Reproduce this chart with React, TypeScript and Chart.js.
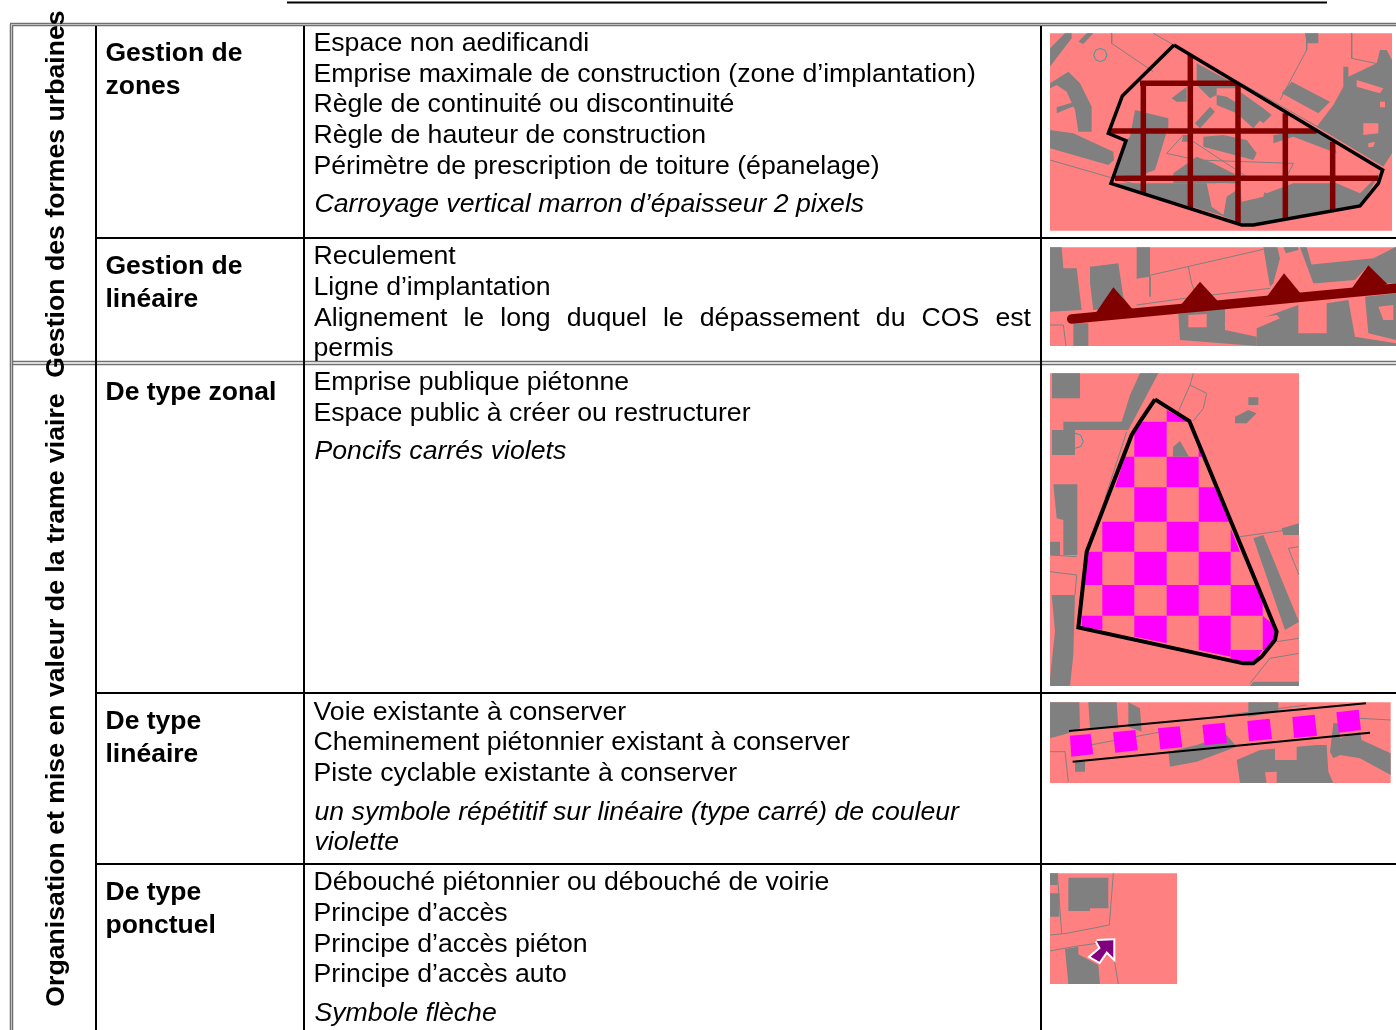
import React, { useEffect, useRef } from "react";
import { Chart, registerables } from "chart.js";

Chart.register(...registerables);

type Pt = [number, number];

const PAGE_W = 1396;
const PAGE_H = 1030;
const FONT = '"Liberation Sans", Arial, sans-serif';

const PINK = "#ff8080";
const GREY = "#808080";
const MAROON = "#800000";
const MAGENTA = "#ff00ff";
const TEAL = "#2f9f9f";
const RULE_GREY = "#707070";

// ---------- Text of the table ----------
const sideLabels = ["Gestion des formes urbaines", "Organisation et mise en valeur de la trame viaire"];
const sideLabelY = [194, 700];

const headLines = ["Gestion de", "zones", "Gestion de", "linéaire", "De type zonal", "De type", "linéaire", "De type", "ponctuel"];
const headBaselines = [61, 94, 274, 307, 400, 729, 762, 900, 933];

const bodyLines = [
  "Espace non aedificandi",
  "Emprise maximale de construction (zone d’implantation)",
  "Règle de continuité ou discontinuité",
  "Règle de hauteur de construction",
  "Périmètre de prescription de toiture (épanelage)",
  "Reculement",
  "Ligne d’implantation",
  "Alignement le long duquel le dépassement du COS est",
  "permis",
  "Emprise publique piétonne",
  "Espace public à créer ou restructurer",
  "Voie existante à conserver",
  "Cheminement piétonnier existant à conserver",
  "Piste cyclable existante à conserver",
  "Débouché piétonnier ou débouché de voirie",
  "Principe d’accès",
  "Principe d’accès piéton",
  "Principe d’accès auto",
];
const bodyBaselines = [51, 82, 112, 143, 174, 264, 295, 326, 356, 390, 421, 720, 750, 781, 890, 921, 952, 982];
const justifiedLine = "Alignement le long duquel le dépassement du COS est";

const italicLines = [
  "Carroyage vertical marron d’épaisseur 2 pixels",
  "Poncifs carrés violets",
  "un symbole répétitif sur linéaire (type carré) de couleur",
  "violette",
  "Symbole flèche",
];
const italicBaselines = [212, 459, 820, 850, 1021];

// ---------- Table rules, in page units ----------
const blackRules: Pt[][] = [
  [[96, 26], [96, 1030]],
  [[304, 26], [304, 1030]],
  [[1041, 26], [1041, 1030]],
  [[96, 238], [1396, 238]],
  [[96, 693], [1396, 693]],
  [[96, 864], [1396, 864]],
  [[287, 2.5], [1327, 2.5]],
];
const greyRules: Pt[][] = [
  [[10.5, 24], [10.5, 1030]],
  [[12.5, 26], [12.5, 1030]],
  [[10, 23.5], [1396, 23.5]],
  [[12, 25.5], [1396, 25.5]],
  [[12, 361.5], [1396, 361.5]],
  [[12, 364.5], [1396, 364.5]],
];

// ---------- Thumbnail 1: zones ----------
const zoneOrigin: Pt = [1040, 20];
const zoneGround: Pt[] = [[30, 40], [1056, 40], [1056, 632], [30, 632]];
const zoneBlocks: Pt[][] = [
  [[30, 85], [75, 40], [95, 40], [95, 55], [45, 120], [30, 140]],
  [[115, 65], [140, 40], [160, 40], [130, 72]],
  [[30, 190], [85, 155], [120, 190], [155, 260], [155, 335], [115, 335], [105, 270], [80, 215], [50, 195], [30, 205]],
  [[50, 262], [105, 245], [110, 255], [50, 280]],
  [[30, 330], [100, 340], [220, 395], [222, 420], [205, 435], [30, 385]],
  [[795, 40], [835, 40], [835, 70], [800, 70]],
  [[910, 140], [925, 140], [925, 170], [1010, 130], [1020, 90], [1040, 90], [1056, 120], [1056, 400], [1030, 440], [830, 320], [880, 255], [910, 200]],
  [[755, 185], [870, 245], [835, 280], [725, 220]],
  [[470, 130], [590, 195], [590, 205], [530, 205], [530, 225], [510, 235], [470, 195]],
  [[395, 235], [440, 200], [440, 245], [410, 245]],
  [[530, 225], [560, 230], [665, 295], [640, 325], [590, 280], [530, 255]],
  [[600, 215], [670, 265], [695, 285], [670, 310], [600, 255]],
  [[285, 270], [385, 295], [385, 320], [345, 450], [290, 470], [225, 465], [255, 365], [270, 350]],
  [[490, 350], [550, 345], [620, 360], [650, 400], [640, 420], [490, 380]],
  [[465, 310], [510, 260], [525, 275], [480, 325]],
  [[430, 345], [445, 345], [445, 365], [425, 365]],
  [[700, 345], [830, 330], [880, 370], [890, 400], [760, 350], [700, 370]],
  [[400, 460], [470, 410], [520, 430], [600, 470], [600, 490], [400, 490]],
  [[230, 490], [500, 490], [515, 560], [590, 605], [540, 585], [300, 515]],
  [[560, 530], [620, 490], [680, 520], [760, 490], [890, 490], [960, 520], [1020, 460], [960, 558], [640, 615], [590, 605], [550, 585]],
];
const zoneHoles: Pt[][] = [
  [[950, 180], [1030, 205], [1020, 220], [950, 200]],
  [[970, 310], [1015, 310], [1015, 340], [970, 345]],
  [[985, 370], [1005, 365], [1000, 380], [985, 382]],
  [[1020, 245], [1035, 245], [1035, 262], [1020, 262]],
  [[530, 490], [565, 490], [550, 585], [515, 560]],
  [[600, 490], [680, 490], [670, 530], [605, 545]],
];
const zoneThinLines: Pt[][] = [
  [[215, 40], [215, 70], [340, 155]],
  [[340, 40], [850, 330]],
  [[800, 50], [800, 90], [720, 240]],
  [[935, 40], [935, 115], [1056, 140]],
  [[30, 420], [220, 475], [350, 510]],
  [[380, 400], [430, 345], [620, 470]],
  [[380, 400], [470, 420], [760, 430], [740, 470]],
];
const zoneTealRing: Pt[] = [[181, 85], [195, 91], [201, 105], [195, 119], [181, 125], [167, 119], [161, 105], [167, 91], [181, 85]];
const zoneGridV: Pt[][] = [
  [[310, 190], [310, 520]],
  [[451, 105], [451, 565]],
  [[594, 190], [594, 610]],
  [[736, 280], [736, 595]],
  [[878, 365], [878, 570]],
];
const zoneGridH: Pt[][] = [
  [[300, 190], [590, 190]],
  [[210, 333], [830, 333]],
  [[225, 475], [1015, 475]],
];
const zoneOutline: Pt[] = [[402, 75], [1028, 450], [1015, 490], [960, 558], [640, 615], [605, 615], [213, 490], [258, 362], [205, 340], [247, 228], [402, 75]];

// ---------- Thumbnail 2: linear management ----------
const linearOrigin: Pt = [1040, 240];
const linearGround: Pt[] = [[30, 22], [1068, 22], [1068, 318], [30, 318]];
const linearBlocks: Pt[][] = [
  [[30, 22], [65, 22], [70, 85], [110, 85], [125, 210], [30, 215]],
  [[150, 80], [235, 70], [250, 170], [270, 200], [160, 210], [150, 130]],
  [[290, 22], [330, 22], [330, 110], [290, 115]],
  [[670, 22], [712, 22], [720, 55], [700, 130], [690, 140]],
  [[730, 22], [775, 22], [775, 30], [738, 40]],
  [[780, 22], [800, 22], [830, 130], [820, 130]],
  [[800, 75], [1000, 55], [1068, 20], [1068, 130], [1040, 130], [985, 76], [945, 120], [830, 130]],
  [[415, 222], [555, 200], [555, 270], [650, 290], [650, 318], [420, 300]],
  [[650, 240], [775, 195], [775, 280], [860, 280], [860, 190], [925, 180], [945, 290], [1068, 310], [1068, 318], [650, 318]],
  [[100, 250], [145, 250], [145, 318], [100, 318]],
  [[975, 170], [1068, 160], [1068, 300], [985, 280]],
];
const linearHoles: Pt[][] = [
  [[445, 225], [500, 222], [500, 262], [445, 262]],
  [[1015, 200], [1060, 195], [1060, 240], [1030, 240]],
  [[550, 250], [710, 225], [720, 235], [650, 265]],
];
const linearThinLines: Pt[][] = [
  [[290, 115], [670, 28]],
  [[445, 80], [455, 130], [470, 170], [690, 145]],
  [[290, 195], [470, 170]],
  [[330, 110], [330, 170]],
  [[30, 255], [70, 255], [78, 318]],
];
const linearStem: Pt[] = [[95, 237], [1068, 145]];
const linearPeaks: Pt[][] = [
  [[220, 142], [278, 208], [165, 222]],
  [[480, 125], [538, 188], [420, 198]],
  [[732, 100], [788, 168], [675, 178]],
  [[985, 76], [1043, 133], [930, 153]],
];

// ---------- Thumbnail 3: zonal type ----------
const zonalOrigin: Pt = [1040, 365];
const zonalGround: Pt[] = [[30, 25], [777, 25], [777, 963], [30, 963]];
const zonalBlocks: Pt[][] = [
  [[36, 25], [120, 25], [120, 100], [36, 100]],
  [[300, 25], [355, 25], [265, 195], [70, 195], [70, 170], [245, 170], [270, 90]],
  [[36, 195], [105, 195], [105, 270], [36, 270]],
  [[40, 358], [112, 358], [112, 570], [70, 570], [70, 465], [50, 460]],
  [[30, 530], [60, 530], [60, 570], [30, 570]],
  [[35, 690], [105, 690], [100, 870], [90, 963], [30, 963], [30, 940], [45, 800]],
  [[625, 97], [655, 97], [655, 120], [625, 120]],
  [[585, 155], [625, 135], [650, 145], [620, 175], [585, 175]],
  [[640, 520], [670, 510], [777, 770], [735, 795]],
  [[725, 490], [777, 475], [777, 510], [730, 510]],
  [[640, 950], [777, 950], [777, 963], [630, 963]],
];
const zonalInnerBlock: Pt[] = [[398, 275], [400, 245], [420, 228], [447, 275]];
const zonalThinLines: Pt[][] = [
  [[30, 570], [110, 575]],
  [[30, 620], [110, 630], [105, 690]],
  [[460, 25], [450, 60], [500, 85], [490, 130], [460, 168]],
  [[450, 60], [415, 140]],
  [[600, 515], [777, 490]],
  [[745, 550], [777, 545]],
  [[745, 550], [777, 630]],
  [[630, 955], [690, 880], [777, 865]],
  [[710, 830], [777, 820]],
  [[260, 200], [195, 400]],
];
const zonalTealArc: Pt[] = [[105, 205], [122, 210], [130, 230], [122, 245], [105, 250]];
const zonalChecker: Pt[][] = [
  [[300, 170], [380, 170], [380, 275], [283, 275], [283, 205]],
  [[380, 135], [445, 170], [380, 170]],
  [[476, 245], [490, 275], [476, 275]],
  [[255, 275], [283, 275], [283, 367], [225, 367]],
  [[380, 275], [476, 275], [476, 367], [380, 367]],
  [[283, 367], [380, 367], [380, 470], [283, 470]],
  [[476, 367], [525, 367], [570, 470], [476, 470]],
  [[187, 470], [283, 470], [283, 560], [187, 560]],
  [[380, 470], [476, 470], [476, 560], [380, 560]],
  [[572, 490], [600, 560], [572, 560]],
  [[140, 560], [187, 560], [187, 660], [135, 660]],
  [[283, 560], [380, 560], [380, 660], [283, 660]],
  [[476, 560], [572, 560], [572, 660], [476, 660]],
  [[187, 660], [283, 660], [283, 752], [187, 752]],
  [[380, 660], [476, 660], [476, 752], [380, 752]],
  [[572, 660], [650, 660], [668, 700], [668, 752], [572, 752]],
  [[125, 752], [187, 752], [187, 795], [125, 785]],
  [[283, 752], [380, 752], [380, 835], [283, 815]],
  [[476, 752], [572, 752], [572, 875], [476, 855]],
  [[668, 752], [690, 770], [710, 810], [680, 855], [668, 855]],
  [[572, 855], [668, 855], [640, 895], [600, 890], [572, 880]],
];
const zonalOutline: Pt[] = [[345, 103], [448, 168], [710, 800], [705, 825], [665, 875], [640, 895], [610, 895], [115, 787], [140, 560], [275, 210], [300, 170], [345, 103]];

// ---------- Thumbnail 4: linear type ----------
const pathOrigin: Pt = [1040, 695];
const pathGround: Pt[] = [[30, 22], [1052, 22], [1052, 264], [30, 264]];
const pathBlocks: Pt[][] = [
  [[30, 22], [118, 22], [120, 100], [85, 115], [30, 130]],
  [[145, 22], [230, 22], [235, 100], [150, 100]],
  [[265, 22], [300, 40], [305, 110], [265, 95]],
  [[625, 22], [715, 22], [715, 50], [625, 65]],
  [[385, 170], [470, 150], [560, 120], [590, 155], [470, 200], [390, 215]],
  [[590, 195], [660, 165], [830, 150], [860, 150], [865, 230], [880, 264], [600, 264]],
  [[880, 85], [895, 85], [900, 130], [960, 110], [965, 135], [1052, 175], [1052, 240], [960, 190], [900, 180], [880, 190], [870, 170]],
  [[105, 200], [135, 200], [135, 230], [105, 230]],
];
const pathHoles: Pt[][] = [
  [[675, 232], [710, 230], [710, 264], [680, 264]],
  [[705, 150], [770, 145], [770, 195], [705, 195]],
];
const pathThinLines: Pt[][] = [
  [[150, 150], [420, 100]],
  [[560, 60], [800, 30]],
  [[30, 170], [75, 170], [85, 260]],
  [[960, 70], [1052, 75]],
];
const pathSquares: Pt[][] = [
  [[90, 122], [152, 117], [160, 178], [94, 185]],
  [[219, 112], [286, 105], [293, 166], [226, 173]],
  [[354, 100], [419, 94], [427, 157], [361, 163]],
  [[487, 90], [554, 83], [561, 144], [494, 151]],
  [[622, 78], [689, 71], [696, 132], [627, 139]],
  [[757, 66], [824, 59], [831, 122], [762, 129]],
  [[889, 52], [956, 44], [963, 105], [896, 113]],
];
const pathEdges: Pt[][] = [
  [[87, 108], [978, 25]],
  [[98, 200], [990, 113]],
];

// ---------- Thumbnail 5: point type ----------
const pointOrigin: Pt = [1040, 865];
const pointGround: Pt[] = [[30, 25], [411, 25], [411, 357], [30, 357]];
const pointBlocks: Pt[][] = [
  [[30, 25], [52, 25], [52, 60], [30, 60]],
  [[30, 85], [58, 85], [58, 155], [30, 155]],
  [[85, 38], [205, 38], [205, 130], [150, 130], [150, 138], [85, 138]],
  [[75, 252], [115, 245], [115, 268], [175, 300], [180, 357], [85, 357]],
];
const pointThinLines: Pt[][] = [
  [[220, 25], [208, 180], [80, 205], [30, 210]],
  [[52, 25], [65, 205]],
  [[30, 258], [100, 245], [170, 235]],
  [[222, 280], [235, 357]],
];
const pointArrow: Pt[] = [[170, 228], [220, 226], [220, 278], [200, 258], [178, 290], [152, 275], [182, 250], [170, 228]];

// ---------- Assembly ----------
const place = (origin: Pt, pts: Pt[]) => pts.map(([x, y]) => ({ x: origin[0] + x / 3, y: origin[1] + y / 3 }));
const flat = (pts: Pt[]) => pts.map(([x, y]) => ({ x, y }));

const shape = (data: { x: number; y: number }[], color: string, edge = color, width = 0) => ({
  data,
  backgroundColor: color,
  borderColor: edge,
  borderWidth: width,
  fill: "shape",
  pointRadius: 0,
  tension: 0,
  clip: false,
});
const stroke = (data: { x: number; y: number }[], color: string, width: number, cap = "butt") => ({
  data,
  borderColor: color,
  backgroundColor: color,
  borderWidth: width,
  borderCapStyle: cap,
  fill: false,
  pointRadius: 0,
  tension: 0,
  clip: false,
});

const thumbnail = (origin: Pt, ground: Pt[], blocks: Pt[][], holes: Pt[][], thin: Pt[][]) => [
  shape(place(origin, ground), PINK),
  ...blocks.map((b) => shape(place(origin, b), GREY)),
  ...holes.map((b) => shape(place(origin, b), PINK)),
  ...thin.map((l) => stroke(place(origin, l), GREY, 1)),
];

const buildDatasets = () => {
  const list: any[] = [
    ...thumbnail(zoneOrigin, zoneGround, zoneBlocks, zoneHoles, zoneThinLines),
    stroke(place(zoneOrigin, zoneTealRing), TEAL, 1),
    ...zoneGridV.map((l) => stroke(place(zoneOrigin, l), MAROON, 5.5)),
    ...zoneGridH.map((l) => stroke(place(zoneOrigin, l), MAROON, 5.5)),
    stroke(place(zoneOrigin, zoneOutline), "#000000", 3.5),

    ...thumbnail(linearOrigin, linearGround, linearBlocks, linearHoles, linearThinLines),
    stroke(place(linearOrigin, linearStem), MAROON, 9.5, "round"),
    ...linearPeaks.map((p) => shape(place(linearOrigin, p), MAROON)),

    ...thumbnail(zonalOrigin, zonalGround, zonalBlocks, [], zonalThinLines),
    stroke(place(zonalOrigin, zonalTealArc), TEAL, 1),
    ...zonalChecker.map((c) => shape(place(zonalOrigin, c), MAGENTA)),
    shape(place(zonalOrigin, zonalInnerBlock), GREY),
    stroke(place(zonalOrigin, zonalOutline), "#000000", 4),

    ...thumbnail(pathOrigin, pathGround, pathBlocks, pathHoles, pathThinLines),
    ...pathSquares.map((c) => shape(place(pathOrigin, c), MAGENTA)),
    ...pathEdges.map((l) => stroke(place(pathOrigin, l), "#000000", 2)),

    ...thumbnail(pointOrigin, pointGround, pointBlocks, [], pointThinLines),
    stroke(place(pointOrigin, pointArrow), "#ffffff", 4),
    shape(place(pointOrigin, pointArrow), "#800080"),

    ...greyRules.map((l) => stroke(flat(l), RULE_GREY, 1.5)),
    ...blackRules.map((l) => stroke(flat(l), "#000000", 2)),
  ];
  return list.map((d, i) => ({ ...d, order: -i }));
};

const tableText = {
  id: "tableText",
  afterDatasetsDraw(chart: any) {
    const { ctx, scales } = chart;
    const sx = (v: number) => scales.x.getPixelForValue(v);
    const sy = (v: number) => scales.y.getPixelForValue(v);
    ctx.save();
    ctx.fillStyle = "#000000";
    ctx.textBaseline = "alphabetic";
    ctx.textAlign = "left";

    ctx.font = `bold 26.5px ${FONT}`;
    headLines.forEach((t, i) => ctx.fillText(t, sx(105.5), sy(headBaselines[i])));

    ctx.font = `26.67px ${FONT}`;
    bodyLines.forEach((t, i) => {
      if (t === justifiedLine) {
        const words = t.split(" ");
        const used = words.reduce((a, w) => a + ctx.measureText(w).width, 0);
        const gap = (1031 - 314 - used) / (words.length - 1);
        let x = 314;
        words.forEach((w) => {
          ctx.fillText(w, sx(x), sy(bodyBaselines[i]));
          x += ctx.measureText(w).width + gap;
        });
      } else {
        ctx.fillText(t, sx(313.5), sy(bodyBaselines[i]));
      }
    });

    ctx.font = `italic 26.67px ${FONT}`;
    italicLines.forEach((t, i) => ctx.fillText(t, sx(314.5), sy(italicBaselines[i])));

    ctx.font = `bold 26.67px ${FONT}`;
    ctx.textAlign = "center";
    sideLabels.forEach((t, i) => {
      ctx.save();
      ctx.translate(sx(64), sy(sideLabelY[i]));
      ctx.rotate(-Math.PI / 2);
      ctx.fillText(t, 0, 0);
      ctx.restore();
    });
    ctx.restore();
  },
};

export default function App() {
  const ref = useRef<HTMLCanvasElement>(null);
  useEffect(() => {
    document.body.style.margin = "0";
    document.body.style.background = "#ffffff";
    const chart = new Chart(ref.current!, {
      type: "line",
      data: { datasets: buildDatasets() },
      options: {
        animation: false,
        responsive: false,
        parsing: false,
        normalized: false,
        layout: { padding: 0 },
        events: [],
        scales: {
          x: { type: "linear", min: 0, max: PAGE_W, display: false },
          y: { type: "linear", min: 0, max: PAGE_H, reverse: true, display: false },
        },
        plugins: { legend: { display: false }, title: { display: false }, tooltip: { enabled: false } },
      } as any,
      plugins: [tableText],
    } as any);
    return () => chart.destroy();
  }, []);
  return <canvas ref={ref} width={PAGE_W} height={PAGE_H} style={{ display: "block" }} />;
}
